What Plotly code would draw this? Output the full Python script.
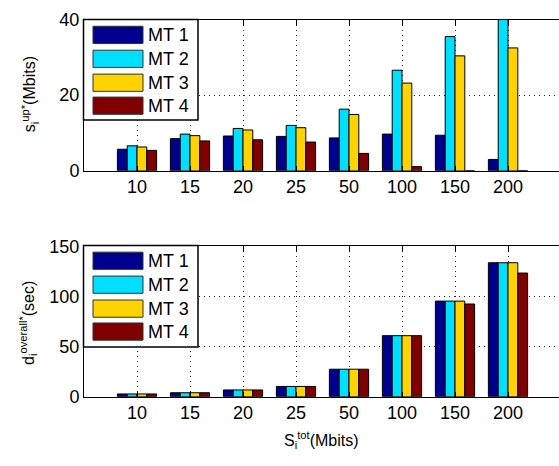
import plotly.graph_objects as go

categories = ["10", "15", "20", "25", "50", "100", "150", "200"]
series_names = ["MT 1", "MT 2", "MT 3", "MT 4"]
colors = ["#00008F", "#00DFFF", "#FFD200", "#800000"]

# top panel: s_i^up* (Mbits)
up_mt1 = [5.7, 8.5, 9.2, 9.1, 8.7, 9.7, 9.4, 3.0]
up_mt2 = [6.6, 9.7, 11.2, 12.0, 16.3, 26.6, 35.5, 42.0]
up_mt3 = [6.3, 9.3, 10.8, 11.4, 14.9, 23.2, 30.4, 32.5]
up_mt4 = [5.4, 7.9, 8.2, 7.6, 4.6, 1.1, 0.0, 0.0]

# bottom panel: d_i^overall* (sec)
d_mt1 = [2.7, 3.9, 6.7, 10.2, 27.4, 60.9, 95.4, 133.7]
d_mt2 = [2.7, 3.9, 6.7, 10.2, 27.4, 60.9, 95.4, 133.7]
d_mt3 = [2.7, 3.9, 6.7, 10.2, 27.4, 60.9, 95.4, 133.7]
d_mt4 = [2.7, 3.9, 6.7, 10.2, 27.4, 60.9, 92.5, 123.4]

top_series = [up_mt1, up_mt2, up_mt3, up_mt4]
bot_series = [d_mt1, d_mt2, d_mt3, d_mt4]

W, H = 559, 466
L = 84
PW = W - L
FONT = "Liberation Sans, Arial, sans-serif"

xpos = list(range(1, len(categories) + 1))

fig = go.Figure()
for name, col, vals in zip(series_names, colors, top_series):
    fig.add_trace(go.Bar(x=xpos, y=vals, name=name, marker=dict(color=col, line=dict(color="black", width=1)),
                         xaxis="x", yaxis="y", showlegend=False))
for name, col, vals in zip(series_names, colors, bot_series):
    fig.add_trace(go.Bar(x=xpos, y=vals, name=name, marker=dict(color=col, line=dict(color="black", width=1)),
                         xaxis="x2", yaxis="y2", showlegend=False))

def px_y(py):
    return 1 - py / H

def px_x(px):
    return (px - L) / PW

GRIDDASH = "1px,4px"
xcommon = dict(range=[0, PW / 53.0], tickvals=xpos, ticktext=categories, showgrid=True,
               gridcolor="#222222", griddash=GRIDDASH, gridwidth=1, showline=True, linecolor="black",
               linewidth=1, mirror="ticks", ticks="inside", ticklen=5, tickcolor="black",
               tickfont=dict(size=18, color="black", family=FONT), zeroline=False)
ycommon = dict(showgrid=True, gridcolor="#222222", griddash=GRIDDASH, gridwidth=1, showline=True,
               linecolor="black", linewidth=1, mirror=False, ticks="inside", ticklen=5,
               tickcolor="black", tickfont=dict(size=18, color="black", family=FONT), zeroline=False)

fig.update_layout(
    width=W, height=H,
    margin=dict(l=L, r=0, t=0, b=0),
    paper_bgcolor="white", plot_bgcolor="white",
    barmode="group", bargap=0.26, bargroupgap=0,
    font=dict(family=FONT, color="black"),
    xaxis=dict(**xcommon, domain=[0, 1], anchor="y"),
    yaxis=dict(**ycommon, range=[0, 40], tickvals=[0, 20, 40], domain=[px_y(168), px_y(10)], anchor="x"),
    xaxis2=dict(**xcommon, domain=[0, 1], anchor="y2"),
    yaxis2=dict(**ycommon, range=[0, 150], tickvals=[0, 50, 100, 150], domain=[px_y(404), px_y(247)], anchor="x2"),
)

shapes = []
annotations = []

def add_legend(box_top, box_bottom, sw_tops):
    shapes.append(dict(type="rect", xref="paper", yref="paper", x0=px_x(83.5), x1=px_x(198),
                       y0=px_y(box_bottom), y1=px_y(box_top), fillcolor="white",
                       line=dict(color="black", width=1.5), layer="above"))
    for name, col, t in zip(series_names, colors, sw_tops):
        shapes.append(dict(type="rect", xref="paper", yref="paper", x0=px_x(93), x1=px_x(143),
                           y0=px_y(t + 18), y1=px_y(t), fillcolor=col,
                           line=dict(color="#333333", width=1), layer="above"))
        annotations.append(dict(text=name, xref="paper", yref="paper", x=px_x(146), y=px_y(t + 9.5),
                                xanchor="left", yanchor="middle", showarrow=False,
                                font=dict(size=18, color="black", family=FONT)))

add_legend(10, 115, [17, 42, 67, 91])
add_legend(246, 352, [253, 278, 303, 327])

annotations.append(dict(text="s<sub>i</sub><sup>up*</sup>(Mbits)", xref="paper", yref="paper",
                        x=px_x(30), y=px_y(88), textangle=-90, showarrow=False,
                        xanchor="center", yanchor="middle", font=dict(size=16, color="black", family=FONT)))
annotations.append(dict(text="d<sub>i</sub><sup>overall*</sup>(sec)", xref="paper", yref="paper",
                        x=px_x(28), y=px_y(327), textangle=-90, showarrow=False,
                        xanchor="center", yanchor="middle", font=dict(size=16, color="black", family=FONT)))
annotations.append(dict(text="S<sub>i</sub><sup>tot</sup>(Mbits)", xref="paper", yref="paper",
                        x=px_x(321), y=px_y(449), showarrow=False,
                        xanchor="center", yanchor="middle", font=dict(size=16, color="black", family=FONT)))

fig.update_layout(shapes=shapes, annotations=annotations)

fig.write_html("out.html")
